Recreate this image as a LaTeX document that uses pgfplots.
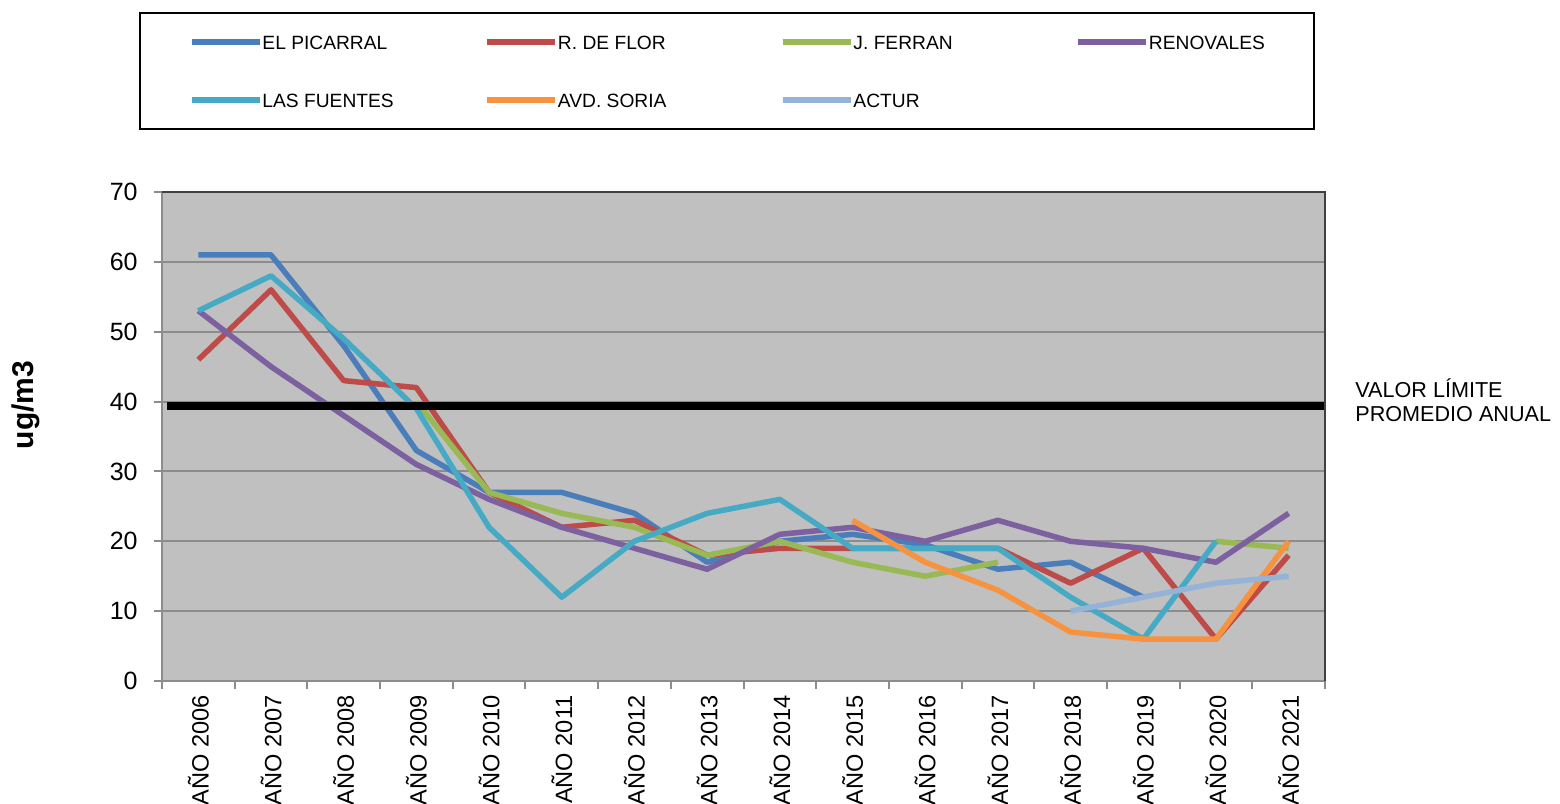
\documentclass[border=0pt]{standalone}
\usepackage{pgfplots}
\pgfplotsset{compat=1.18}
\usepackage{fontspec}
\setmainfont{Liberation Sans}
\definecolor{cPic}{HTML}{4A7EBB}
\definecolor{cFlor}{HTML}{BE4B48}
\definecolor{cFerr}{HTML}{98B954}
\definecolor{cReno}{HTML}{7D60A0}
\definecolor{cFuen}{HTML}{46AAC5}
\definecolor{cSoria}{HTML}{F69240}
\definecolor{cActur}{HTML}{95B3D7}
\definecolor{bgGray}{HTML}{C0C0C0}
\definecolor{gridGray}{HTML}{8C8C8C}
\begin{document}
\begin{tikzpicture}
\useasboundingbox (0,0) rectangle (780pt,402pt);
\begin{axis}[
  at={(81pt,61.5pt)}, anchor=south west,
  scale only axis, width=581.5pt, height=244.5pt,
  xmin=-0.5, xmax=15.5, ymin=0, ymax=70,
  clip=false,
  unbounded coords=jump,
  axis background/.style={fill=bgGray},
  axis line style={draw=gray!90, line width=1pt},
  xtick={0,...,15},
  xticklabels={AÑO 2006,AÑO 2007,AÑO 2008,AÑO 2009,AÑO 2010,AÑO 2011,AÑO 2012,AÑO 2013,AÑO 2014,AÑO 2015,AÑO 2016,AÑO 2017,AÑO 2018,AÑO 2019,AÑO 2020,AÑO 2021},
  minor xtick={-0.5,0.5,...,15.5},
  every major x tick/.style={draw=none},
  every minor x tick/.append style={draw=gray!90, line width=1pt},
  minor tick length=4pt,
  major tick length=4pt,
  tick align=outside,
  tick pos=left,
  ytick={0,10,...,70},
  every major y tick/.append style={draw=gray!90, line width=1pt},
  ymajorgrids,
  major grid style={draw=gridGray, line width=1pt},
  /pgf/number format/assume math mode=true,
  x tick label style={rotate=90, anchor=east, inner sep=0pt, font=\fontsize{11.8}{13}\selectfont},
  xticklabel shift=3pt,
  y tick label style={inner sep=0pt, font=\fontsize{12.5}{14}\selectfont},
  yticklabel shift=8pt,
  ylabel={ug/m3},
  ylabel style={at={(axis description cs:-0.1174,0.5644)}, anchor=center, rotate=0, font=\fontsize{15}{18}\selectfont\bfseries},
  legend columns=4,
  legend cell align=left,
  legend image code/.code={\path (0pt,0pt) -- (34pt,0pt); \draw[#1, line cap=round] (1.4pt,0pt) -- (32.6pt,0pt);},
  legend style={at={(-0.01978,1.3681)}, anchor=north west, draw=black, line width=1pt,
    inner xsep=24.5pt, inner ysep=11pt, row sep=22pt,
    nodes={inner sep=0pt, text height=7pt, text depth=0pt, font=\fontsize{9.6}{11}\selectfont}},
  every axis plot/.append style={line width=2.75pt, line join=round, no markers},
]
\addplot[cPic] coordinates {(0,61) (1,61) (2,48) (3,33) (4,27) (5,27) (6,24) (7,17) (8,20) (9,21) (10,19.5) (11,16) (12,17) (13,12)};
\addlegendentry{\makebox[111pt][l]{EL PICARRAL}}
\addplot[cFlor] coordinates {(0,46) (1,56) (2,43) (3,42) (4,27) (5,22) (6,23) (7,18) (8,19) (9,19) (10,19) (11,19) (12,14) (13,19) (14,6) (15,18)};
\addlegendentry{\makebox[111pt][l]{R. DE FLOR}}
\addplot[cFerr] coordinates {(3,40) (4,27) (5,24) (6,22) (7,18) (8,20) (9,17) (10,15) (11,17) (12,nan) (13,nan) (14,20) (15,19)};
\addlegendentry{\makebox[111pt][l]{J. FERRAN}}
\addplot[cReno] coordinates {(0,53) (1,45) (2,38) (3,31) (4,26) (5,22) (6,19) (7,16) (8,21) (9,22) (10,20) (11,23) (12,20) (13,19) (14,17) (15,24)};
\addlegendentry{\makebox[58pt][l]{RENOVALES}}
\addplot[cFuen] coordinates {(0,53) (1,58) (2,49) (3,39) (4,22) (5,12) (6,20) (7,24) (8,26) (9,19) (10,19) (11,19) (12,12) (13,6) (14,20)};
\addlegendentry{\makebox[111pt][l]{LAS FUENTES}}
\addplot[cSoria] coordinates {(9,23) (10,17) (11,13) (12,7) (13,6) (14,6) (15,20)};
\addlegendentry{\makebox[111pt][l]{AVD. SORIA}}
\addplot[cActur] coordinates {(12,10) (13,12) (14,14) (15,15)};
\addlegendentry{\makebox[111pt][l]{ACTUR}}
\addplot[black, line width=4pt, line cap=butt, forget plot] coordinates {(-0.43,39.4) (15.5,39.4)};
\draw[color=black!75, line width=1.2pt] (rel axis cs:0,1) -- (rel axis cs:1,1) -- (rel axis cs:1,0);
\node[anchor=west, align=left, inner sep=0pt, font=\fontsize{10.8}{12}\selectfont] at (axis cs:15.5,40.2) [xshift=15pt] {VALOR LÍMITE\\PROMEDIO ANUAL};
\end{axis}
\end{tikzpicture}
\end{document}
